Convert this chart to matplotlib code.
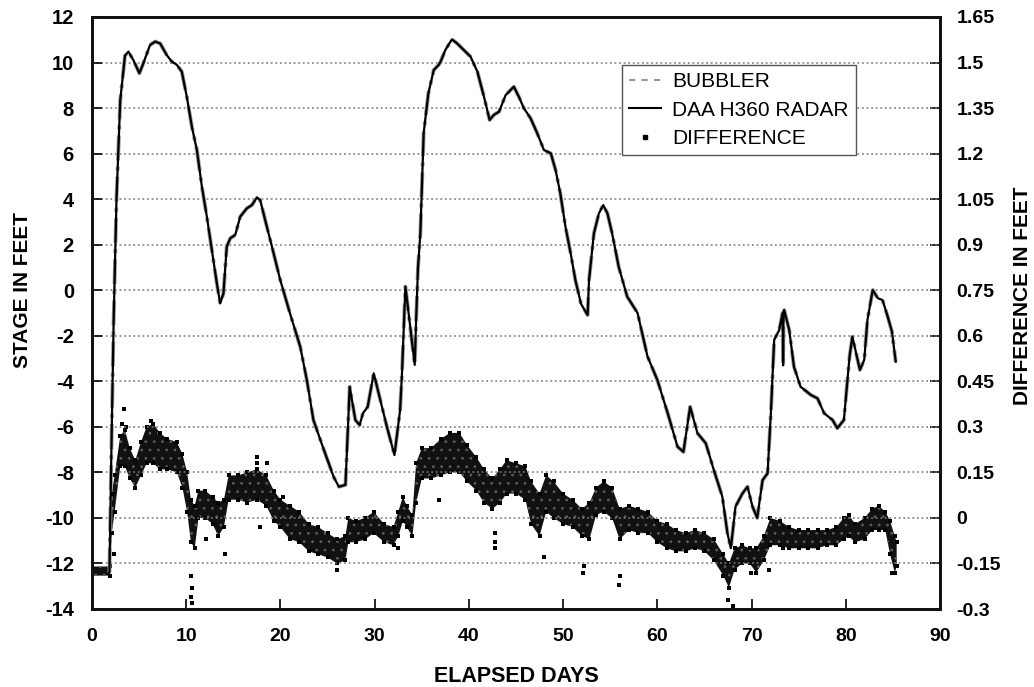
import matplotlib
matplotlib.use("Agg")
import matplotlib.pyplot as plt
from matplotlib.lines import Line2D

# ---------------- data ----------------
stage_day = [1.85, 2.1, 2.3, 2.6, 3.0, 3.5, 3.86, 4.4, 5.03, 5.45, 6.16, 6.7, 7.23, 7.93,
             8.47, 9.0, 9.53, 10.06, 10.6, 11.13, 11.66, 12.19, 12.72, 13.25, 13.6, 13.95,
             14.3, 14.67, 15.2, 15.73, 16.44, 16.97, 17.5, 17.85, 18.38, 19.1, 19.98, 21.0,
             22.1, 22.8, 23.5, 24.6, 25.64, 26.2, 26.9, 27.35, 27.95, 28.4, 28.76, 29.26,
             29.9, 30.6, 31.3, 32.1, 32.7, 32.9, 33.26, 33.6, 34.25, 34.4, 34.6, 34.85,
             35.2, 35.7, 36.27, 36.8, 37.0, 37.5, 38.2, 38.75, 39.46, 40.17, 40.9, 41.6,
             42.2, 42.65, 43.2, 43.9, 44.77, 45.3, 45.84, 46.55, 47.26, 47.96, 48.7, 49.2,
             49.7, 50.25, 50.8, 51.3, 51.9, 52.6, 52.75, 52.9, 53.27, 53.8, 54.26, 54.7,
             55.2, 55.9, 56.8, 57.9, 58.95, 60.0, 61.1, 62.14, 62.77, 63.48, 64.26, 65.14,
             66.0, 66.9, 67.44, 67.8, 68.3, 69.04, 69.57, 70.1, 70.6, 71.17, 71.7, 72.05,
             72.4, 72.93, 73.3, 73.35, 73.4, 73.46, 74.0, 74.5, 75.2, 76.3, 77.0, 77.7,
             78.6, 79.1, 79.8, 80.4, 80.7, 81.5, 81.96, 82.3, 82.86, 83.4, 83.9, 84.45,
             84.9, 85.3]
radar_ft = [-12.4, -6.0, -1.3, 4.0, 8.35, 10.3, 10.48, 10.1, 9.53, 9.97, 10.77, 10.92, 10.84, 10.33,
            10.04, 9.9, 9.6, 8.5, 7.18, 6.16, 4.55, 3.23, 1.77, 0.3, -0.58, -0.14,
            1.91, 2.28, 2.43, 3.23, 3.6, 3.74, 4.08, 3.96, 3.08, 1.91, 0.45, -1.0,
            -2.48, -3.94, -5.7, -7.0, -8.19, -8.63, -8.55, -4.24, -5.7, -5.92, -5.4, -5.12,
            -3.65, -4.82, -6.0, -7.24, -5.26, -3.65, 0.16, -1.0, -3.28, -1.3, 1.0, 2.5,
            6.9, 8.65, 9.67, 9.9, 10.04, 10.55, 11.02, 10.84, 10.55, 10.26, 9.6, 8.5,
            7.48, 7.7, 7.84, 8.57, 8.94, 8.5, 7.99, 7.55, 6.89, 6.16, 6.01, 5.28,
            4.26, 2.79, 1.62, 0.45, -0.6, -1.09, 0.45, 1.03, 2.5, 3.38, 3.74, 3.38,
            2.5, 1.03, -0.28, -1.0, -2.9, -3.94, -5.4, -6.87, -7.1, -5.12, -6.28, -6.72,
            -7.9, -9.07, -10.67, -11.33, -9.5, -8.92, -8.63, -9.5, -10.0, -8.34, -8.04, -5.4,
            -2.18, -1.75, -1.0, -3.3, -0.9, -0.87, -1.75, -3.36, -4.24, -4.6, -4.75, -5.4,
            -5.7, -6.06, -5.7, -2.92, -2.04, -3.5, -3.06, -1.3, 0.01, -0.35, -0.43, -1.16,
            -1.82, -3.14]
bubbler_ft = list(radar_ft)

diff_day = [0.0, 1.9, 2.1, 2.4, 3.0, 3.5, 4.0, 4.6, 5.2, 5.8, 6.5, 7.2, 8.0, 9.0, 9.6, 10.1,
            10.5, 10.9, 11.3, 12.0, 12.8, 13.4, 14.0, 14.5, 15.5, 16.5, 17.5, 18.5, 19.3,
            20.0, 21.0, 22.0, 23.0, 24.0, 25.0, 26.0, 26.9, 27.2, 28.0, 29.0, 29.9, 31.0,
            32.0, 32.5, 33.0, 33.4, 34.0, 34.4, 35.0, 36.0, 37.0, 38.0, 39.0, 39.8, 40.8,
            41.6, 42.5, 43.3, 44.0, 45.0, 46.0, 46.6, 47.5, 48.2, 49.0, 50.0, 51.0, 52.0,
            52.8, 53.5, 54.3, 55.2, 56.0, 57.0, 58.0, 59.0, 60.0, 61.0, 62.0, 63.0, 64.0,
            65.0, 66.0, 67.0, 67.6, 68.2, 69.0, 69.8, 70.5, 71.3, 72.0, 73.0, 74.0, 75.0,
            76.0, 77.0, 78.0, 79.0, 79.8, 80.3, 81.0, 82.0, 82.8, 83.5, 84.2, 84.7, 85.2, 85.4]
diff_low = [-0.19, -0.19, -0.05, 0.02, 0.17, 0.17, 0.13, 0.10, 0.14, 0.18, 0.18, 0.16, 0.16, 0.15, 0.10, 0.02,
            -0.08, -0.10, 0.00, 0.00, -0.02, -0.06, -0.03, 0.06, 0.06, 0.05, 0.06, 0.04, -0.01,
            -0.03, -0.07, -0.08, -0.11, -0.12, -0.13, -0.15, -0.14, -0.08, -0.08, -0.07, -0.05, -0.08,
            -0.09, -0.06, -0.01, -0.03, -0.06, 0.05, 0.13, 0.13, 0.14, 0.15, 0.15, 0.12, 0.09,
            0.05, 0.03, 0.05, 0.08, 0.08, 0.06, -0.02, -0.06, 0.02, 0.00, -0.02, -0.03, -0.06,
            -0.07, 0.01, 0.02, 0.00, -0.07, -0.04, -0.05, -0.05, -0.08, -0.10, -0.11, -0.11, -0.10,
            -0.11, -0.14, -0.19, -0.23, -0.17, -0.15, -0.15, -0.18, -0.14, -0.09, -0.09, -0.10, -0.10,
            -0.10, -0.10, -0.09, -0.09, -0.07, -0.06, -0.08, -0.07, -0.04, -0.04, -0.04, -0.12, -0.18, -0.16]
diff_high = [-0.16, -0.16, 0.08, 0.14, 0.27, 0.29, 0.23, 0.19, 0.25, 0.30, 0.31, 0.28, 0.26, 0.25, 0.21, 0.15,
             0.06, 0.04, 0.09, 0.09, 0.07, 0.05, 0.06, 0.14, 0.14, 0.15, 0.16, 0.14, 0.09,
             0.06, 0.04, 0.02, -0.02, -0.03, -0.05, -0.07, -0.06, 0.00, -0.01, 0.00, 0.02, -0.02,
             -0.03, 0.02, 0.07, 0.04, 0.01, 0.18, 0.23, 0.23, 0.26, 0.28, 0.28, 0.24, 0.20,
             0.16, 0.13, 0.16, 0.19, 0.18, 0.17, 0.12, 0.08, 0.14, 0.12, 0.08, 0.06, 0.03,
             0.05, 0.10, 0.12, 0.10, 0.03, 0.04, 0.03, 0.02, -0.01, -0.02, -0.04, -0.05, -0.04,
             -0.05, -0.07, -0.12, -0.15, -0.10, -0.09, -0.10, -0.10, -0.06, 0.00, -0.01, -0.03, -0.04,
             -0.04, -0.04, -0.04, -0.03, 0.00, 0.01, -0.02, 0.00, 0.03, 0.04, 0.02, -0.01, -0.06, -0.08]

outlier_day = [3.2, 3.4, 3.6, 6.3, 10.5, 10.5, 10.6, 10.6, 12.1, 14.1, 17.5, 17.5, 17.8, 18.6,
               2.3, 20.3, 26.0, 32.5, 36.8, 42.8, 42.8, 42.8, 48.0, 52.1, 52.2, 55.9, 56.0,
               67.5, 68.0, 69.9, 71.8, 73.3, 84.9]
outlier_diff = [0.31, 0.36, 0.30, 0.32, -0.19, -0.26, -0.28, -0.23, -0.07, -0.12, 0.20, 0.18, -0.03, 0.18,
                -0.12, 0.07, -0.17, -0.10, 0.06, -0.05, -0.08, -0.10, -0.13, -0.18, -0.16, -0.22, -0.19,
                -0.27, -0.29, -0.18, -0.17, -0.10, -0.18]

x_ticks = [0, 10, 20, 30, 40, 50, 60, 70, 80, 90]
stage_ticks = [-14, -12, -10, -8, -6, -4, -2, 0, 2, 4, 6, 8, 10, 12]
diff_ticks = [-0.3, -0.15, 0, 0.15, 0.3, 0.45, 0.6, 0.75, 0.9, 1.05, 1.2, 1.35, 1.5, 1.65]
diff_tick_labels = ["-0.3", "-0.15", "0", "0.15", "0.3", "0.45", "0.6", "0.75", "0.9",
                    "1.05", "1.2", "1.35", "1.5", "1.65"]

# ---------------- figure ----------------
plt.rcParams['font.family'] = ['Liberation Sans', 'DejaVu Sans']
plt.rcParams['font.weight'] = 'bold'
plt.rcParams['hatch.linewidth'] = 0.8
fig = plt.figure(figsize=(10.34, 6.87), dpi=100)
W, H = 1034, 687
ax = fig.add_axes([92 / W, 1 - 609 / H, (940 - 92) / W, (609 - 17) / H])
ax2 = ax.twinx()

ax.set_xlim(0, 90)
ax.set_ylim(-14, 12)
ax2.set_ylim(-0.3, 1.65)

# difference cloud on the right axis
ax2.fill_between(diff_day, diff_low, diff_high, facecolor='#111111', edgecolor='#5a5a5a',
                 hatch='..', linewidth=0, zorder=2)
ax2.scatter(diff_day, diff_low, s=7, color='black', marker='s', linewidths=0, zorder=3)
ax2.scatter(diff_day, diff_high, s=7, color='black', marker='s', linewidths=0, zorder=3)
ax2.scatter(outlier_day, outlier_diff, s=7, color='black', marker='s', linewidths=0, zorder=3)

# stage lines on the left axis (drawn above)
ax.set_zorder(ax2.get_zorder() + 1)
ax.patch.set_visible(False)
ax.plot(stage_day, bubbler_ft, color='#9a9a9a', linestyle='-.', linewidth=2.8, zorder=3)
ax.plot(stage_day, radar_ft, color='black', linestyle='-', linewidth=1.6, zorder=4)

# grid
for yv in stage_ticks[1:-1]:
    ax.axhline(yv, color='#7a7a7a', linestyle=(0, (1.2, 1.8)), linewidth=1.1, zorder=1)

ax.set_xticks(x_ticks)
ax.set_xticklabels([str(v) for v in x_ticks], fontsize=14, fontweight='bold')
ax.set_yticks(stage_ticks)
ax.set_yticklabels([str(v) for v in stage_ticks], fontsize=14.5, fontweight='bold')
ax2.set_yticks(diff_ticks)
ax2.set_yticklabels(diff_tick_labels, fontsize=14, fontweight='bold')

ax.tick_params(axis='x', direction='in', length=7, width=1.2, pad=14, top=False)
ax.tick_params(axis='y', direction='in', length=7, width=1.2, pad=13, right=False)
ax2.tick_params(axis='y', direction='in', length=7, width=1.2, pad=12)

for a in (ax, ax2):
    for sp in a.spines.values():
        sp.set_linewidth(2.0)
        sp.set_color('#111111')

fig.text(23 / W, 1 - 290 / H, 'STAGE IN FEET', rotation=90, ha='center', va='center',
         fontsize=15, fontweight='bold')
fig.text(1022 / W, 1 - 296 / H, 'DIFFERENCE IN FEET', rotation=90, ha='center', va='center',
         fontsize=15, fontweight='bold')
fig.text(516 / W, 1 - 677 / H, 'ELAPSED DAYS', ha='center', va='center',
         fontsize=15.5, fontweight='bold')

handles = [Line2D([], [], color='#9a9a9a', linestyle=(0, (3, 3)), linewidth=1.5),
           Line2D([], [], color='black', linewidth=1.5),
           Line2D([], [], color='black', marker='s', markersize=2.2, linestyle='None')]
leg = ax.legend(handles, ['BUBBLER', 'DAA H360 RADAR', 'DIFFERENCE'],
                loc='upper left', bbox_to_anchor=(0.625, 0.919),
                prop={'family': ['Liberation Sans', 'DejaVu Sans'], 'weight': 'normal', 'size': 15},
                frameon=True, fancybox=False, edgecolor='#555555', framealpha=1,
                handlelength=1.5, handletextpad=0.55, borderpad=0.35, labelspacing=0.45,
                borderaxespad=0)
leg.get_frame().set_linewidth(1.0)

fig.savefig('out.png', dpi=100)
